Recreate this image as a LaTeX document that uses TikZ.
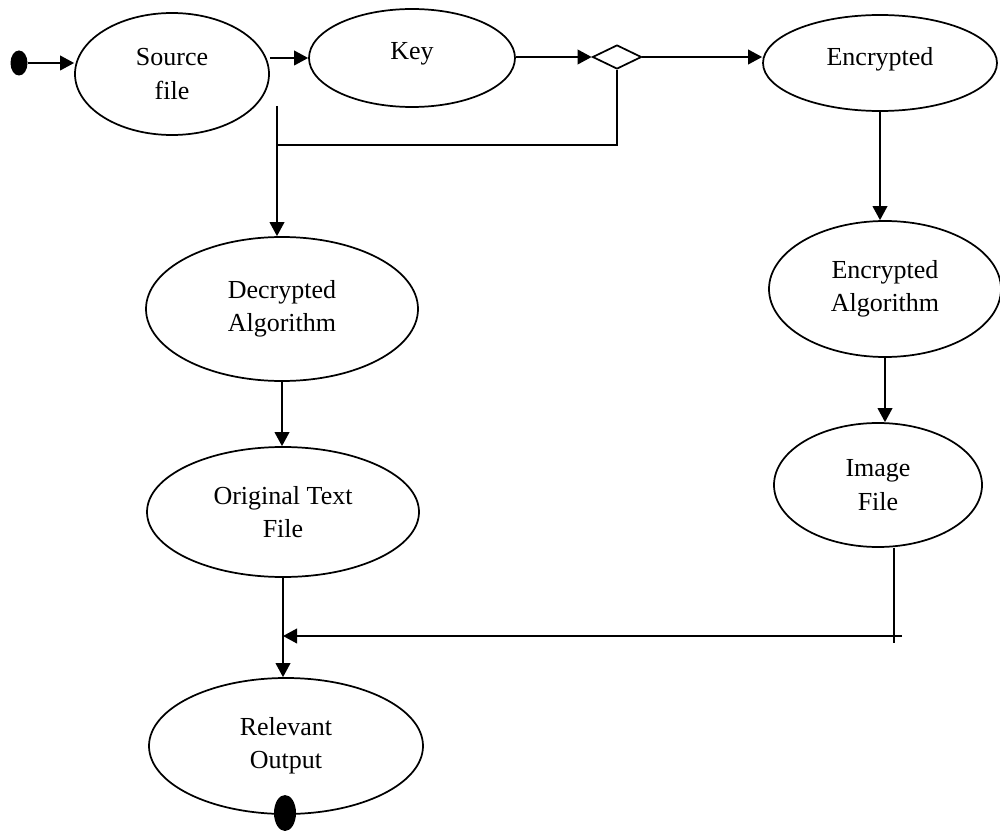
\documentclass[tikz,border=0pt]{standalone}
\usepackage{fontspec}
\setmainfont{Liberation Serif}
\usetikzlibrary{shapes.geometric,arrows.meta}
\begin{document}
\begin{tikzpicture}[x=0.75pt,y=-0.75pt,
  state/.style={ellipse,draw,line width=1.3pt,inner sep=0pt,align=center,
    font=\fontsize{19.5}{25}\selectfont},
  oneline/.style={text depth=10pt},
  flow/.style={line width=1.3pt},
  arr/.style={flow,-{Triangle[length=10.5pt,width=11pt]}},
  terminal/.style={ellipse,fill=black,draw=none,inner sep=0pt},
  choice/.style={diamond,draw,line width=1.3pt,inner sep=0pt,
    minimum width=36.75pt,minimum height=18pt}
]
\useasboundingbox (0,0) rectangle (1000,831);

% states
\node[terminal,minimum width=12.75pt,minimum height=18.75pt] (start) at (19,63) {};
\node[state,minimum width=145.5pt,minimum height=91.5pt] (src) at (172,74) {Source\\file};
\node[state,oneline,minimum width=154.5pt,minimum height=73.5pt] (key) at (412,58) {Key};
\node[choice] (dia) at (617,57) {};
\node[state,oneline,minimum width=175.5pt,minimum height=72pt] (enc) at (880,63) {Encrypted};
\node[state,minimum width=174pt,minimum height=102pt] (ealg) at (885,289) {Encrypted\\Algorithm};
\node[state,minimum width=156pt,minimum height=93pt] (img) at (878,485) {Image\\File};
\node[state,minimum width=204pt,minimum height=108pt] (dec) at (282,309) {Decrypted\\Algorithm};
\node[state,minimum width=204pt,minimum height=97.5pt] (orig) at (283,512) {Original Text\\File};
\node[state,minimum width=205.5pt,minimum height=102pt] (rel) at (286,746) {Relevant\\Output};
\node[terminal,minimum width=16.5pt,minimum height=27pt] (stop) at (285,813) {};

% junction points of the branch lines
\coordinate (fork) at (277,106);
\coordinate (joinL) at (277,145);
\coordinate (imgdown) at (894,643);
\coordinate (joinR) at (902,636);

% top row
\draw[arr] (start.east) -- (start.east -| src.west);
\draw[arr] (src.east |- key.west) -- (key.west);
\draw[arr] (key.east |- dia.west) -- (dia.west);
\draw[arr] (dia.east) -- (dia.east -| enc.west);

% decryption branch
\draw[flow] (dia.south) |- (joinL);
\draw[arr] (fork) -- (fork |- dec.north);
\draw[arr] (dec.south) -- (dec.south |- orig.north);
\draw[arr] (orig.south) -- (orig.south |- rel.north);

% encryption branch
\draw[arr] (enc.south) -- (enc.south |- ealg.north);
\draw[arr] (ealg.south) -- (ealg.south |- img.north);
\draw[flow] (imgdown |- img.south) -- (imgdown);
\draw[arr] (joinR) -- (joinR -| orig.south);
\end{tikzpicture}
\end{document}
